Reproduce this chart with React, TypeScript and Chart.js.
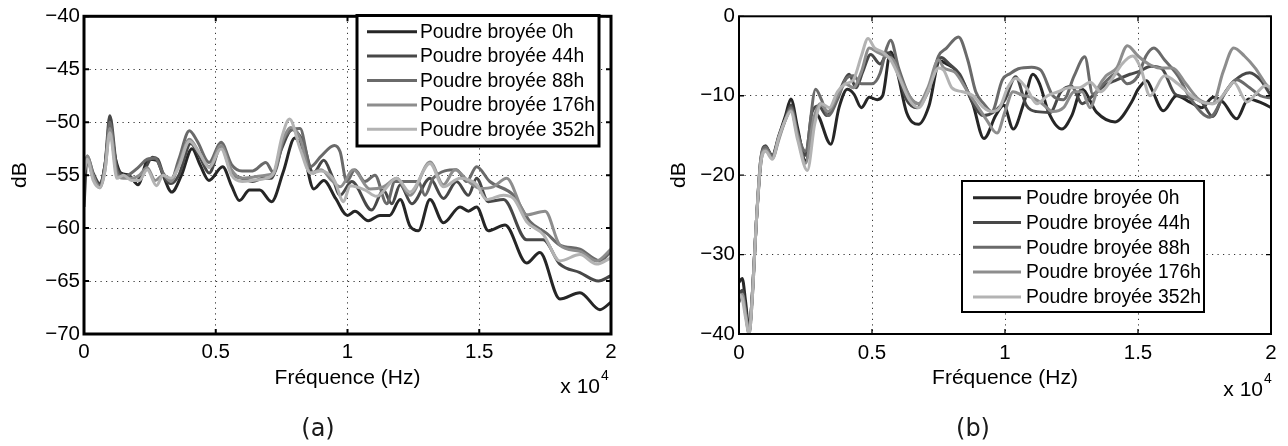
import React, { useEffect, useRef } from "react";
import { Chart, registerables } from "chart.js";

Chart.register(...registerables);

type Pt = [number, number]; // [frequency in kHz, level in dB]

const seriesLabels = [
  "Poudre broyée 0h",
  "Poudre broyée 44h",
  "Poudre broyée 88h",
  "Poudre broyée 176h",
  "Poudre broyée 352h",
];
const seriesColors = ["#262626", "#484848", "#6a6a6a", "#8d8d8d", "#b3b3b3"];

const xTickLabel = (v: number) => String(v / 10); // kHz -> units of 10^4 Hz
const yTickLabel = (v: number) => (v < 0 ? "\u2212" + Math.abs(v) : String(v));

// ---------- panel (a) ----------
const a0h: Pt[] = [[0,-55.5],[0.12,-53.3],[0.3,-54.8],[0.6,-56],[0.8,-54],[0.98,-50.6],[1.2,-53.5],[1.4,-54.8],[1.7,-55],[2.05,-55.9],[2.44,-53.5],[2.76,-53.6],[3.0,-55],[3.33,-56.6],[3.7,-55],[4.1,-52.5],[4.4,-54],[4.74,-55.5],[5.26,-54.2],[5.6,-56],[5.9,-57.4],[6.28,-56.4],[6.67,-56.4],[7.12,-57.5],[7.56,-54.7],[8.0,-51.5],[8.33,-52.9],[8.72,-56.3],[9.1,-55.5],[9.55,-57.2],[10.0,-58.8],[10.28,-58.4],[10.79,-59.3],[11.23,-58.8],[11.6,-58.8],[12.0,-57.3],[12.37,-59.8],[12.69,-60.25],[13.13,-57.3],[13.64,-59.5],[14.27,-58],[14.59,-58.4],[14.9,-58],[15.34,-60.25],[15.98,-59.7],[16.8,-63.3],[17.3,-62.3],[18.06,-66.7],[18.82,-66.1],[19.58,-67.7],[20,-67]];
const a44h: Pt[] = [[0,-58],[0.12,-53.2],[0.35,-54.8],[0.6,-55.8],[0.8,-54],[0.98,-49.4],[1.25,-54.3],[1.5,-55],[1.75,-55.2],[2.0,-55.5],[2.3,-54.5],[2.6,-53.3],[2.8,-53.5],[3.05,-55.2],[3.3,-55.8],[3.6,-55],[4.05,-52],[4.4,-53.3],[4.75,-54.8],[5.2,-52.3],[5.6,-54.8],[6.0,-55.3],[6.4,-55.6],[6.8,-55.3],[7.1,-55.3],[7.5,-52.5],[7.9,-50.7],[8.3,-51.8],[8.7,-54.8],[9.1,-53.6],[9.4,-55],[9.72,-56.9],[10.16,-55.6],[10.92,-58.3],[11.36,-56.4],[11.68,-57.7],[12.0,-55.9],[12.44,-57.7],[13.13,-55.3],[13.64,-57.2],[14.14,-55.6],[14.59,-56.9],[14.9,-55.3],[15.34,-57.5],[15.92,-57.3],[16.8,-61.1],[17.43,-61.1],[18.06,-63.4],[18.82,-64.2],[19.52,-65],[20,-64.5]];
const a88h: Pt[] = [[0,-55],[0.12,-53.4],[0.35,-55.2],[0.6,-56],[0.8,-54],[0.98,-50],[1.25,-54.6],[1.5,-55.2],[1.8,-54.8],[2.05,-54.3],[2.4,-53.5],[2.7,-53.4],[3.0,-54.8],[3.3,-55.5],[3.6,-53.5],[4.0,-50.8],[4.3,-51.8],[4.75,-53.8],[5.2,-51.9],[5.6,-54],[6.0,-54.6],[6.4,-54.6],[6.9,-53.8],[7.2,-54.8],[7.6,-51.5],[8.2,-50.6],[8.6,-54.2],[9.0,-53.2],[9.5,-52.2],[9.72,-52.8],[9.97,-55.6],[10.28,-54.5],[10.66,-55.6],[11.04,-55],[11.49,-57.7],[11.8,-55.6],[12.25,-55.6],[12.69,-55.6],[12.94,-56.9],[13.25,-55.3],[14.14,-54.5],[14.52,-55.6],[14.9,-54.2],[15.4,-55.6],[16.3,-56.9],[16.93,-59.4],[17.56,-60.5],[18.06,-61.6],[18.82,-62],[19.58,-63.1],[20,-62.2]];
const a176h: Pt[] = [[0,-54.5],[0.12,-53.2],[0.35,-55],[0.6,-56.2],[0.8,-54.5],[0.98,-50.6],[1.25,-55],[1.5,-55.3],[1.8,-55.3],[2.1,-55],[2.4,-54.3],[2.7,-55.5],[3.0,-55],[3.3,-55.6],[3.6,-54],[4.0,-51.6],[4.4,-53],[4.75,-54.2],[5.2,-52.2],[5.6,-54.5],[6.0,-55.3],[6.4,-55.2],[6.9,-55],[7.2,-54.8],[7.5,-52],[7.85,-50.5],[8.2,-51.5],[8.6,-54.8],[9.0,-54.5],[9.4,-55.5],[9.72,-56.1],[10.22,-54.5],[10.85,-56.3],[11.36,-56.1],[11.87,-55.3],[12.37,-56.9],[13.13,-53.75],[13.64,-55.9],[14.08,-54.5],[14.59,-55.6],[15.03,-56.25],[15.53,-56.1],[16.04,-55.3],[16.8,-58.75],[17.5,-58.4],[18.06,-61.6],[18.82,-62.2],[19.45,-63.1],[20,-62]];
const a352h: Pt[] = [[0,-54.8],[0.12,-53.5],[0.35,-55.5],[0.6,-56.2],[0.8,-54.5],[0.98,-51],[1.25,-55.3],[1.5,-55],[1.8,-55.5],[2.1,-55.5],[2.4,-54.5],[2.75,-56],[3.0,-55],[3.3,-55.3],[3.6,-54.2],[4.0,-51.8],[4.4,-53],[4.75,-54.3],[5.2,-52.5],[5.6,-55],[6.0,-55.6],[6.4,-55.5],[6.9,-55.3],[7.2,-54.8],[7.5,-51.5],[7.8,-49.7],[8.2,-52.5],[8.6,-54.8],[9.0,-54.6],[9.5,-55.5],[9.85,-57.5],[10.1,-56],[10.66,-56.4],[11.1,-57],[11.87,-55.3],[12.37,-56.6],[13.13,-53.9],[13.64,-56.1],[14.27,-55.3],[14.9,-55.9],[15.28,-57.3],[15.92,-56.9],[16.3,-57.2],[16.8,-59.4],[17.43,-60.6],[18.06,-63.1],[18.82,-62.5],[19.45,-63.4],[20,-62.8]];

// ---------- panel (b) ----------
const b0h: Pt[] = [[0,-33.5],[0.12,-33],[0.25,-36],[0.38,-39.5],[0.5,-35],[0.65,-26],[0.82,-18.5],[1.0,-16.5],[1.25,-17.5],[1.5,-15],[1.75,-12.5],[1.95,-10.4],[2.2,-14],[2.5,-18.2],[2.9,-12.3],[3.45,-16.1],[3.76,-11.5],[4.07,-9.2],[4.32,-9.8],[4.6,-11.5],[4.9,-10.2],[5.2,-10.5],[5.4,-10],[5.7,-4.5],[5.95,-7],[6.3,-12.1],[6.75,-13.6],[7.14,-11.3],[7.55,-5.6],[7.8,-6],[8.15,-6.8],[8.77,-10.8],[9.21,-15.4],[9.65,-12.5],[9.95,-11.2],[10.31,-14.2],[10.7,-11],[11.05,-7.3],[11.3,-8.5],[11.64,-12.1],[12.14,-14.2],[12.51,-12.5],[12.89,-9.2],[13.45,-12.1],[14.14,-13.3],[14.76,-10.8],[15.0,-9.2],[15.33,-8.1],[15.52,-9.2],[15.95,-11.9],[16.45,-10.0],[16.95,-10.8],[17.39,-11.5],[17.83,-10.2],[18.2,-10.8],[18.71,-12.9],[19.15,-10.4],[19.71,-11.0],[20,-11.5]];
const b44h: Pt[] = [[0,-35],[0.12,-34.5],[0.25,-37],[0.38,-39.8],[0.5,-35],[0.65,-26],[0.82,-18],[1.0,-16.3],[1.25,-17.8],[1.5,-15.2],[1.75,-12.8],[1.95,-11.2],[2.2,-14.5],[2.5,-17.5],[2.75,-12],[3.0,-11.3],[3.3,-12.5],[3.6,-11],[3.9,-8.5],[4.14,-7.3],[4.4,-9],[4.65,-7],[4.95,-4.8],[5.3,-6],[5.6,-4.6],[5.9,-6.5],[6.3,-10.5],[6.7,-11.5],[7.1,-9.5],[7.6,-5.2],[7.9,-6],[8.3,-7.3],[8.8,-11],[9.2,-12.5],[9.6,-12],[10.0,-10.5],[10.4,-7.6],[10.8,-11.2],[11.2,-12.0],[11.7,-12.1],[12.1,-9.5],[12.5,-8.8],[12.9,-11],[13.3,-10],[13.7,-8.8],[14.2,-8.0],[14.7,-7.3],[15.0,-7.0],[15.5,-6.3],[15.9,-6.6],[16.4,-9.8],[16.9,-10.2],[17.4,-10.8],[17.8,-12.6],[18.2,-10],[18.6,-8.2],[19.2,-7.1],[19.6,-8],[20,-10]];
const b88h: Pt[] = [[0,-36],[0.12,-35],[0.25,-37.5],[0.38,-40],[0.5,-35.5],[0.65,-26],[0.82,-18],[1.0,-16.5],[1.25,-17.6],[1.5,-15.2],[1.75,-13],[1.95,-11.5],[2.2,-14.8],[2.5,-17],[2.88,-9.2],[3.1,-10.5],[3.35,-12.5],[3.7,-10.5],[4.0,-8],[4.3,-7.5],[4.6,-8.5],[5.0,-8.5],[5.3,-7.2],[5.55,-4],[5.7,-3],[6.0,-6.5],[6.4,-10],[6.75,-11],[7.1,-9.5],[7.5,-5],[7.8,-4],[8.25,-2.6],[8.6,-5.5],[8.9,-9.5],[9.2,-11],[9.5,-12],[9.9,-8],[10.2,-7.2],[10.5,-6.6],[11.0,-6.4],[11.35,-6.8],[11.8,-10],[12.2,-10.5],[12.6,-7.5],[13.0,-5.1],[13.3,-9.8],[13.7,-8.5],[14.2,-7.2],[14.6,-8.5],[15.0,-7.5],[15.3,-5],[15.6,-4],[16.0,-5.5],[16.5,-7.5],[17.0,-10.5],[17.7,-12.7],[18.3,-9.5],[18.7,-8],[19.2,-9],[19.6,-10],[20,-10.3]];
const b176h: Pt[] = [[0,-35.5],[0.12,-35],[0.25,-37.5],[0.38,-39.8],[0.5,-35],[0.65,-26],[0.82,-18],[1.0,-16.8],[1.25,-17.9],[1.5,-15.5],[1.75,-13],[1.95,-11.8],[2.2,-15],[2.5,-18.5],[2.8,-13],[3.05,-11],[3.35,-12],[3.7,-10],[4.0,-8.5],[4.3,-9],[4.6,-7],[4.9,-4],[5.2,-4.5],[5.5,-5],[5.8,-5.5],[6.1,-8],[6.5,-10.5],[6.75,-11],[7.1,-9],[7.5,-5.5],[7.7,-6.5],[8.1,-7],[8.6,-9.5],[9.0,-11.5],[9.3,-13],[9.7,-14.7],[10.0,-12],[10.3,-9.5],[10.7,-10],[11.0,-10.2],[11.4,-11],[11.8,-12],[12.2,-11.5],[12.6,-9.5],[12.9,-9.5],[13.2,-11.5],[13.5,-9],[13.8,-7.5],[14.2,-6.5],[14.6,-3.7],[15.0,-5],[15.4,-6],[15.8,-6.5],[16.3,-6.5],[16.8,-8.5],[17.3,-10.5],[17.8,-11],[18.2,-7],[18.6,-4],[19.0,-5],[19.4,-6.5],[19.8,-8.5],[20,-9.2]];
const b352h: Pt[] = [[0,-35],[0.12,-35.5],[0.25,-38],[0.38,-40],[0.5,-35.5],[0.65,-26],[0.82,-18.5],[1.0,-17],[1.25,-18],[1.5,-15.2],[1.75,-13],[1.95,-12],[2.2,-15.5],[2.57,-19.4],[2.85,-13.5],[3.1,-11],[3.4,-11.5],[3.7,-9.5],[4.0,-8.5],[4.3,-8],[4.6,-5],[4.85,-2.8],[5.1,-4],[5.4,-4.5],[5.7,-5.5],[6.0,-7.5],[6.4,-10.5],[6.75,-11.5],[7.1,-9.5],[7.5,-6.5],[7.7,-6.8],[8.0,-9],[8.4,-9.5],[8.8,-10],[9.2,-11.5],[9.5,-12],[9.8,-11.5],[10.1,-9],[10.4,-7.8],[10.8,-9],[11.2,-11],[11.6,-10],[12.0,-9.5],[12.4,-9],[12.8,-9],[13.2,-8.3],[13.6,-9.5],[14.0,-8],[14.4,-6],[14.8,-5],[15.1,-6.5],[15.45,-10],[16.0,-7.5],[16.5,-8.5],[17.0,-10],[17.4,-10.8],[17.85,-11],[18.3,-9.5],[18.6,-8.3],[19.1,-10.8],[19.5,-9.5],[19.8,-8.7],[20,-9]];

const FONT = "'Liberation Sans', Arial, Helvetica, sans-serif";
const TICK_FS = 20.5;
const TITLE_FS = 21;

// font size that makes the longest legend entry span the given width
function legendFontSize(target: number): number {
  const c = document.createElement("canvas").getContext("2d") as CanvasRenderingContext2D;
  c.font = `20px ${FONT}`;
  const longest = seriesLabels.reduce((a, b) => (c.measureText(b).width > c.measureText(a).width ? b : a));
  const w = c.measureText(longest).width;
  return Math.min(22, Math.max(14, (20 * target) / w));
}

interface PanelSpec {
  series: Pt[][];
  yMin: number;
  yMax: number;
  yStep: number;
  yAxisWidth: number;
  padRight: number;
  yTitlePad: number;
  xTickPad: number;
  frameWidth: number;
  tickWidth: number;
  legend: { left: number; top: number; right: number; bottom: number; firstRow: number; rowGap: number; lx0: number; lx1: number; tx: number };
  expo: { right: number; y: number; supY: number };
  caption: { text: string; x: number; y: number };
}

const panelA: PanelSpec = {
  series: [a0h, a44h, a88h, a176h, a352h],
  yMin: -70, yMax: -40, yStep: 5,
  yAxisWidth: 84, padRight: 33, yTitlePad: 8.5, xTickPad: 6,
  frameWidth: 3, tickWidth: 2,
  legend: { left: 357, top: 15.5, right: 599, bottom: 146, firstRow: 31.7, rowGap: 24.4, lx0: 367, lx1: 417, tx: 420 },
  expo: { right: 600, y: 387, supY: 376 },
  caption: { text: "(a)", x: 318, y: 430 },
};

const panelB: PanelSpec = {
  series: [b0h, b44h, b88h, b176h, b352h],
  yMin: -40, yMax: 0, yStep: 10,
  yAxisWidth: 95, padRight: 17, yTitlePad: 23.5, xTickPad: 7.5,
  frameWidth: 2, tickWidth: 1.3,
  legend: { left: 318, top: 181, right: 560, bottom: 312, firstRow: 197.7, rowGap: 24.8, lx0: 329, lx1: 377, tx: 382 },
  expo: { right: 619, y: 390, supY: 379 },
  caption: { text: "(b)", x: 329, y: 430 },
};

function decorPlugin(spec: PanelSpec, legendFS: number) {
  return {
    id: "decor",
    afterDatasetsDraw(chart: any) {
      const { ctx, chartArea: a, scales } = chart;
      ctx.save();
      ctx.setLineDash([]);
      ctx.strokeStyle = "#000";
      // inward tick marks on all four sides
      ctx.lineWidth = spec.tickWidth;
      const tl = 5;
      ctx.beginPath();
      scales.x.ticks.forEach((t: any) => {
        const px = scales.x.getPixelForValue(t.value);
        ctx.moveTo(px, a.bottom); ctx.lineTo(px, a.bottom - tl);
        ctx.moveTo(px, a.top); ctx.lineTo(px, a.top + tl);
      });
      scales.y.ticks.forEach((t: any) => {
        const py = scales.y.getPixelForValue(t.value);
        ctx.moveTo(a.left, py); ctx.lineTo(a.left + tl, py);
        ctx.moveTo(a.right, py); ctx.lineTo(a.right - tl, py);
      });
      ctx.stroke();
      // axes box
      ctx.lineWidth = spec.frameWidth;
      ctx.strokeRect(a.left, a.top, a.right - a.left, a.bottom - a.top);
      // legend
      const L = spec.legend;
      ctx.fillStyle = "#fff";
      ctx.fillRect(L.left, L.top, L.right - L.left, L.bottom - L.top);
      ctx.lineWidth = spec.frameWidth;
      ctx.strokeRect(L.left, L.top, L.right - L.left, L.bottom - L.top);
      ctx.font = `${legendFS}px ${FONT}`;
      ctx.textBaseline = "middle";
      ctx.textAlign = "left";
      chart.data.datasets.forEach((ds: any, i: number) => {
        const y = L.firstRow + i * L.rowGap;
        ctx.strokeStyle = ds.borderColor;
        ctx.lineWidth = 3;
        ctx.beginPath();
        ctx.moveTo(L.lx0, y);
        ctx.lineTo(L.lx1, y);
        ctx.stroke();
        ctx.fillStyle = "#000";
        ctx.fillText(ds.label, L.tx, y + 1);
      });
      // exponent label
      const E = spec.expo;
      ctx.fillStyle = "#000";
      ctx.textAlign = "right";
      ctx.font = `${TITLE_FS}px ${FONT}`;
      ctx.fillText("x 10", E.right, E.y);
      ctx.textAlign = "left";
      ctx.font = `14px ${FONT}`;
      ctx.fillText("4", E.right + 1, E.supY);
      // caption
      const C = spec.caption;
      ctx.textAlign = "center";
      ctx.font = `24px 'DejaVu Sans', sans-serif`;
      ctx.fillStyle = "#1a1a1a";
      ctx.fillText(C.text, C.x, C.y);
      ctx.restore();
    },
  };
}

function buildConfig(spec: PanelSpec, legendFS: number): any {
  const tickFont = { family: FONT, size: TICK_FS };
  const titleFont = { family: FONT, size: TITLE_FS };
  const titleHalf = (TITLE_FS * 1.2) / 2;
  return {
    type: "line",
    data: {
      datasets: spec.series.map((s, i) => ({
        label: seriesLabels[i],
        data: s.map(([x, y]) => ({ x, y })),
        borderColor: seriesColors[i],
        backgroundColor: seriesColors[i],
        borderWidth: 3,
        pointRadius: 0,
        cubicInterpolationMode: "monotone",
        fill: false,
        order: seriesLabels.length - 1 - i,
      })),
    },
    options: {
      responsive: false,
      animation: false,
      events: [],
      layout: { padding: { top: 15.5, right: spec.padRight, left: 0, bottom: 0 } },
      plugins: { legend: { display: false }, tooltip: { enabled: false } },
      scales: {
        x: {
          type: "linear",
          min: 0,
          max: 20,
          ticks: { stepSize: 5, callback: (v: number) => xTickLabel(v), padding: spec.xTickPad, font: tickFont, color: "#000", maxRotation: 0, autoSkip: false },
          grid: { drawTicks: false, color: "rgba(0,0,0,0.8)", lineWidth: 1 },
          border: { display: false, dash: [1.2, 4.3] },
          title: { display: true, text: "Fréquence (Hz)", font: titleFont, color: "#000", padding: { top: 0, bottom: 446 - 378 - titleHalf } },
          afterFit: (s: any) => { s.height = 112; },
        },
        y: {
          type: "linear",
          min: spec.yMin,
          max: spec.yMax,
          ticks: { stepSize: spec.yStep, callback: (v: number) => yTickLabel(v), padding: 4, font: tickFont, color: "#000", autoSkip: false },
          grid: { drawTicks: false, color: "rgba(0,0,0,0.8)", lineWidth: 1 },
          border: { display: false, dash: [1.2, 4.3] },
          title: { display: true, text: "dB", font: titleFont, color: "#000", padding: { top: spec.yTitlePad + 11.4 - titleHalf, bottom: 0 } },
          afterFit: (s: any) => { s.width = spec.yAxisWidth; },
        },
      },
    },
    plugins: [decorPlugin(spec, legendFS)],
  };
}

export default function App() {
  const refA = useRef<HTMLCanvasElement>(null);
  const refB = useRef<HTMLCanvasElement>(null);
  useEffect(() => {
    const fs = legendFontSize(175);
    const ca = new Chart(refA.current as HTMLCanvasElement, buildConfig(panelA, fs));
    const cb = new Chart(refB.current as HTMLCanvasElement, buildConfig(panelB, fs));
    return () => {
      ca.destroy();
      cb.destroy();
    };
  }, []);
  return (
    <div style={{ position: "fixed", left: 0, top: 0, width: 1288, height: 446, background: "#fff" }}>
      <canvas ref={refA} width={644} height={446} style={{ position: "absolute", left: 0, top: 0, width: 644, height: 446 }} />
      <canvas ref={refB} width={644} height={446} style={{ position: "absolute", left: 644, top: 0, width: 644, height: 446 }} />
    </div>
  );
}
